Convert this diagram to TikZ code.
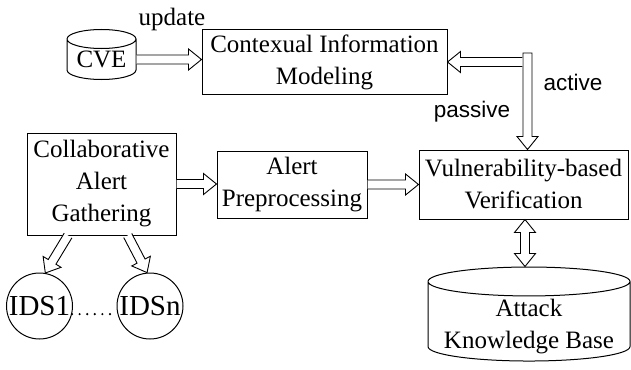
\documentclass[tikz,border=0pt]{standalone}
\usepackage{fontspec}
\setmainfont{Liberation Serif}
\newfontfamily\labelsans{Liberation Sans}
\usetikzlibrary{shapes.geometric,calc}

\newcommand{\shaftw}{4.5pt}
\newcommand{\headw}{10.5pt}
\newcommand{\headl}{13pt}

\tikzset{
    block/.style={
        draw,
        rectangle,
        line width=1pt,
        align=center,
        inner sep=0pt,
        font=\fontsize{25}{32}\selectfont
    },
    store/.style={
        draw,
        cylinder,
        shape border rotate=90,
        line width=1pt,
        align=center,
        inner sep=0pt,
        font=\fontsize{25}{32}\selectfont
    },
    sensor/.style={
        draw,
        circle,
        minimum size=66pt,
        inner sep=0pt,
        line width=1pt,
        font=\fontsize{29}{32}\selectfont
    },
    tag/.style={font=\fontsize{25}{31}\selectfont},
    sanstag/.style={font=\labelsans\fontsize{22.5}{27}\selectfont},
    hollow/.style={
        draw,
        fill=white,
        line width=0.9pt,
        to path={
            let \p1=(\tikztostart), \p2=(\tikztotarget),
                \n1={atan2(\y2-\y1,\x2-\x1)}, \n2={veclen(\x2-\x1,\y2-\y1)} in
            [shift={(\p1)}, rotate=\n1]
            (0,\shaftw) -- (\n2-\headl,\shaftw) -- (\n2-\headl,\headw) -- (\n2,0)
            -- (\n2-\headl,-\headw) -- (\n2-\headl,-\shaftw) -- (0,-\shaftw)
        }
    },
    hollowshut/.style={
        draw,
        fill=white,
        line width=0.9pt,
        to path={
            let \p1=(\tikztostart), \p2=(\tikztotarget),
                \n1={atan2(\y2-\y1,\x2-\x1)}, \n2={veclen(\x2-\x1,\y2-\y1)} in
            [shift={(\p1)}, rotate=\n1]
            (0,\shaftw) -- (\n2-\headl,\shaftw) -- (\n2-\headl,\headw) -- (\n2,0)
            -- (\n2-\headl,-\headw) -- (\n2-\headl,-\shaftw) -- (0,-\shaftw) -- cycle
        }
    },
    hollowboth/.style={
        draw,
        fill=white,
        line width=0.9pt,
        to path={
            let \p1=(\tikztostart), \p2=(\tikztotarget),
                \n1={atan2(\y2-\y1,\x2-\x1)}, \n2={veclen(\x2-\x1,\y2-\y1)} in
            [shift={(\p1)}, rotate=\n1]
            (\headl,\shaftw) -- (\n2-\headl,\shaftw) -- (\n2-\headl,\headw) -- (\n2,0)
            -- (\n2-\headl,-\headw) -- (\n2-\headl,-\shaftw) -- (\headl,-\shaftw)
            -- (\headl,-\headw) -- (0,0) -- (\headl,\headw) -- cycle
        }
    }
}

\begin{document}
\begin{tikzpicture}[x=1pt, y=-1pt]
\useasboundingbox (0,0) rectangle (631,369);

% sources
\node[store, minimum width=69pt, minimum height=50pt, aspect=0.38] (cve) at (101.5,59.5) {CVE};
\node[block, minimum width=245pt, minimum height=64pt] (ctx) at (324.5,62) {Contexual Information\\Modeling};

% alert path
\node[block, minimum width=149pt, minimum height=102pt] (collab) at (101.5,184) {Collaborative\\Alert\\Gathering};
\node[block, minimum width=150pt, minimum height=67pt] (prep) at (292,184.5) {Alert\\Preprocessing};
\node[block, minimum width=209pt, minimum height=69pt] (verify) at (523.5,184.5) {Vulnerability-based\\Verification};
\node[store, minimum width=202pt, minimum height=94pt, aspect=0.17, text height=31pt, text depth=9pt] (akb) at (529,321.5)
    {\begin{tabular}{@{}c@{}}Attack\\Knowledge Base\end{tabular}};

% sensors
\node[sensor] (ids1) at (39.5,306) {IDS1};
\node[sensor] (idsn) at (150,306) {IDSn};
\draw[line width=2.4pt, line cap=round, dash pattern=on 0pt off 7.6pt] (ids1.-14) -- (idsn.-166);

% labels
\node[tag] (upd) at (172,19) {update};
\node[sanstag] (act) at (573,82) {active};
\node[sanstag] (pas) at (472,112) {passive};

% connectors
\coordinate (split) at (527.5,53);
\coordinate (fork) at (522.4,62);
\draw[hollow] (cve.east) to (cve.east -| ctx.west);
\draw[hollowshut] (split) to (split |- verify.north);
\draw[hollow] (fork) to (fork -| ctx.east);
\draw[hollow] (collab.east) to (collab.east -| prep.west);
\draw[hollow] (prep.east) to (verify.west);
\draw[hollowboth] (verify.south -| 525,0) to (akb.north -| 525,0);
\draw[hollow] (collab.-123) to (ids1.80);
\draw[hollow] (collab.-63) to (idsn.95);
\end{tikzpicture}
\end{document}
